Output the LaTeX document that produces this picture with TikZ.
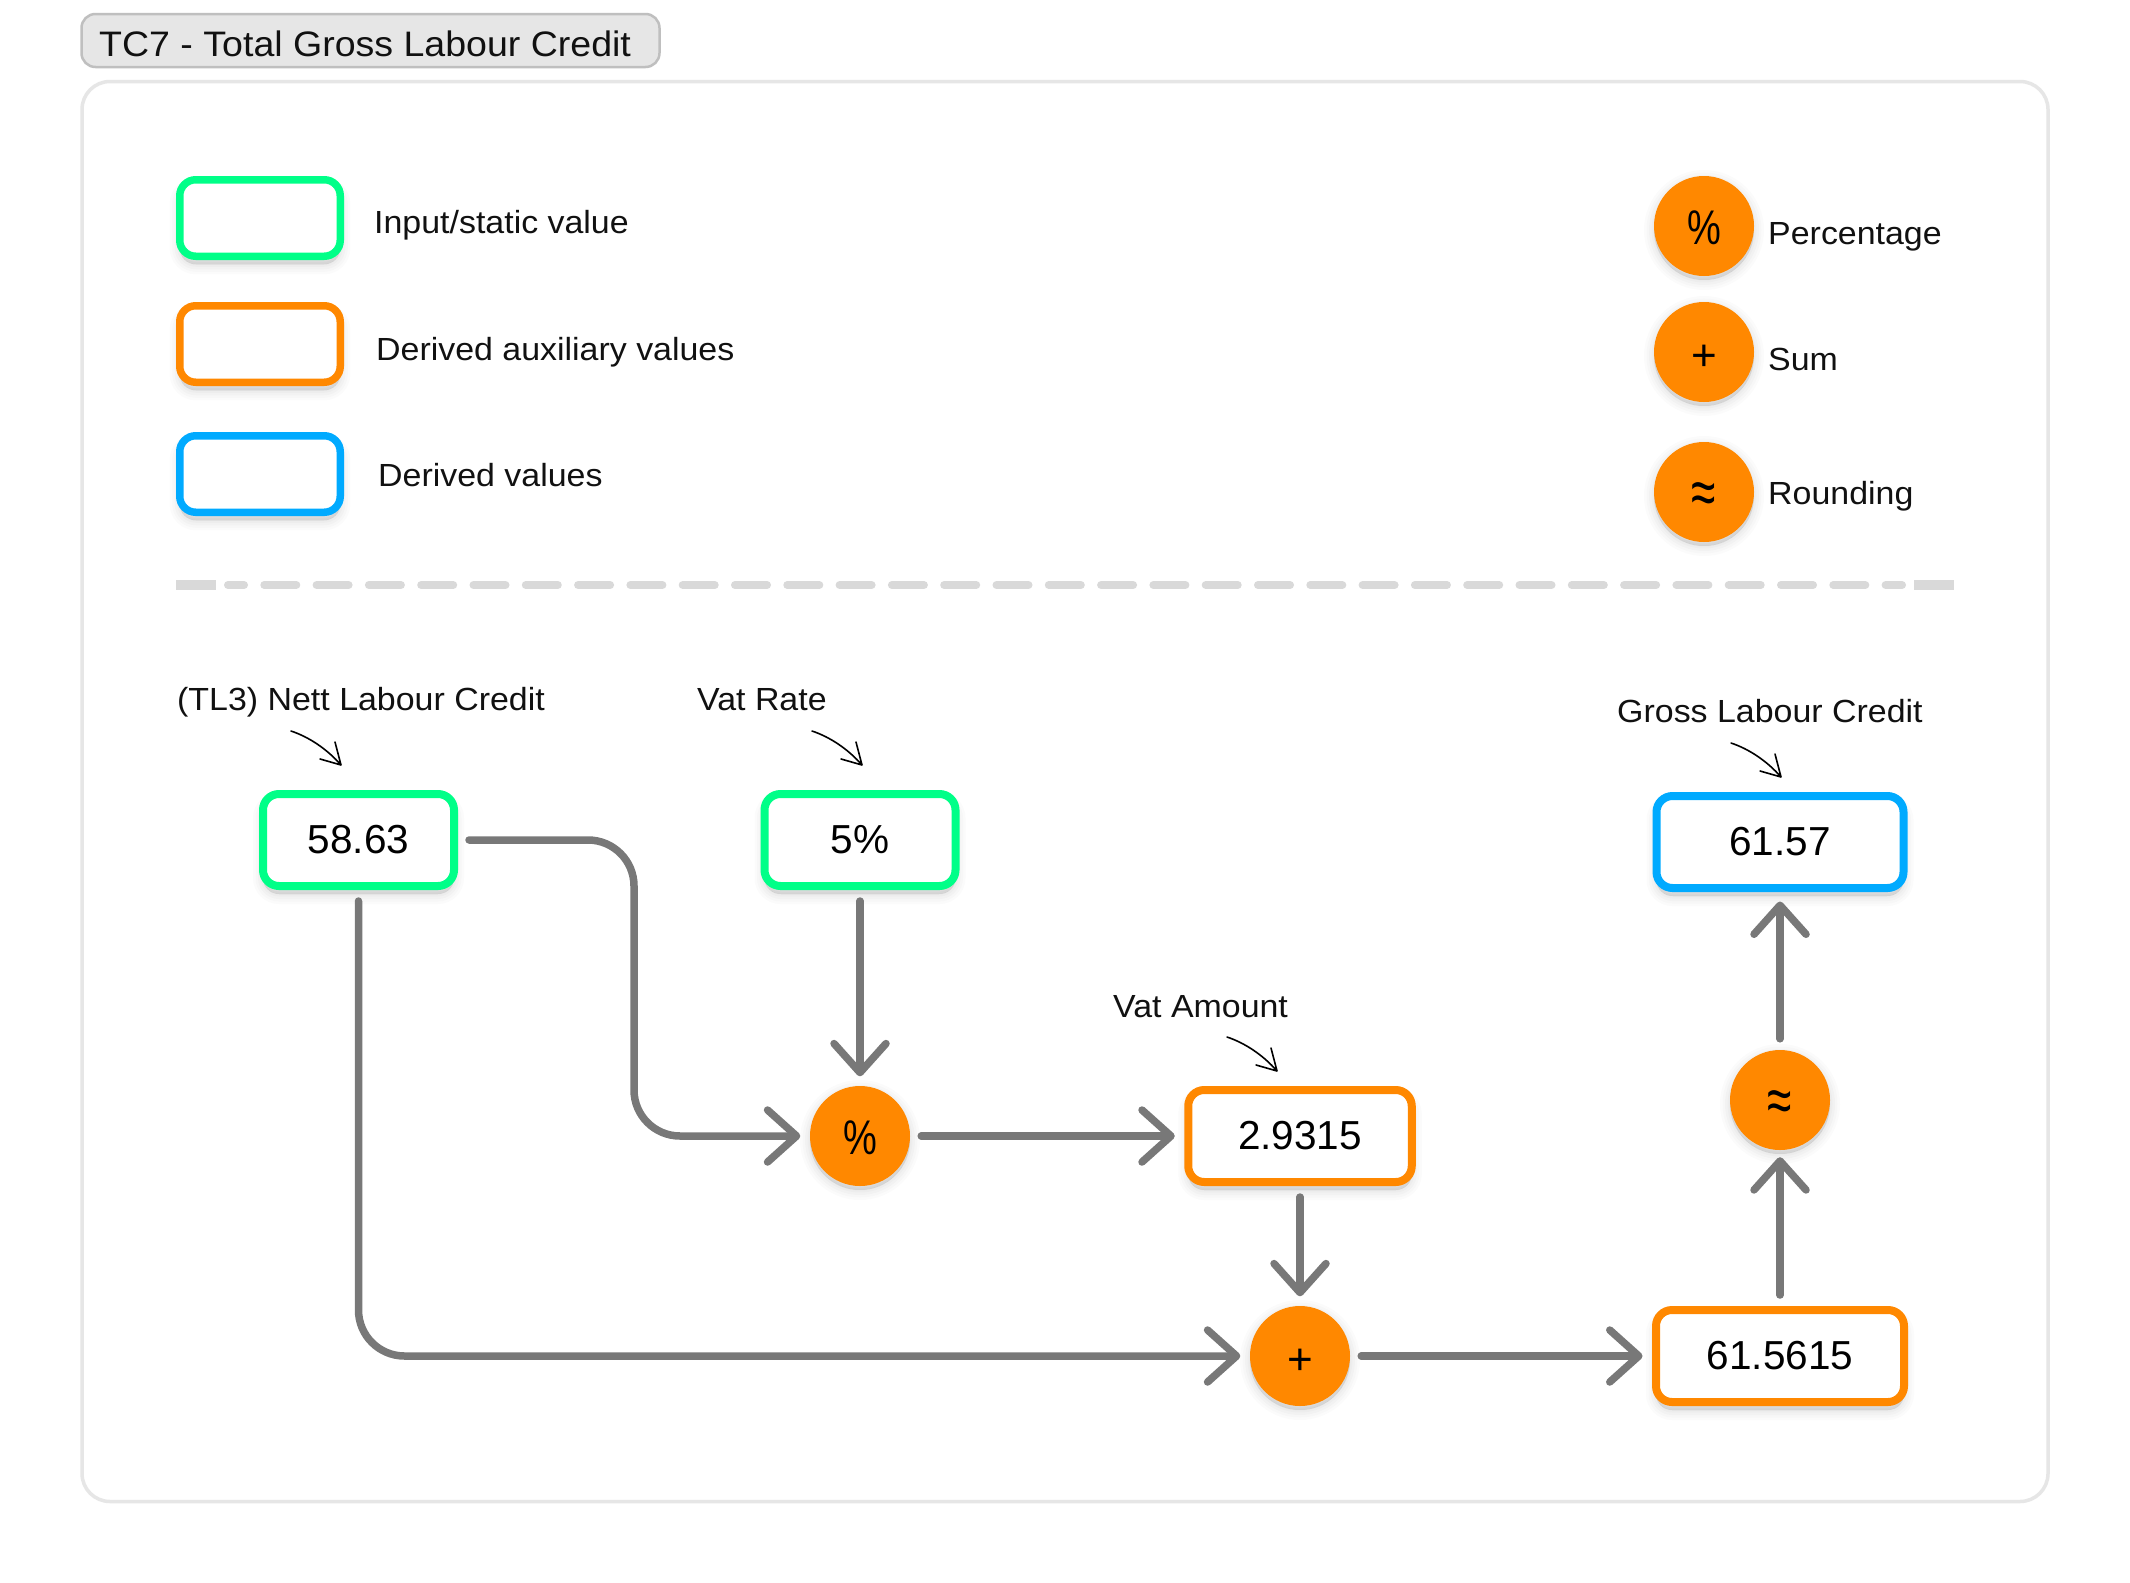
\documentclass[tikz,border=0pt]{standalone}
\usepackage{fontspec}
\setmainfont{Liberation Sans}
\newfontfamily\lblfont[FakeStretch=1.06]{Liberation Sans}
\newfontfamily\valfont{Liberation Sans}
\usetikzlibrary{arrows.meta,shadows,calc}
\definecolor{cgreen}{HTML}{00FF88}
\definecolor{corange}{HTML}{FF8800}
\definecolor{cblue}{HTML}{00AAFF}
\definecolor{cline}{HTML}{787878}
\definecolor{cframe}{HTML}{E6E6E6}
\definecolor{cdash}{HTML}{D9D9D9}
\definecolor{cink}{HTML}{111111}
\tikzset{
  softshadow/.style={
    general shadow={draw=black,fill=black,opacity=.016,line width=20pt,shadow yshift=-#1},
    general shadow={draw=black,fill=black,opacity=.016,line width=15pt,shadow yshift=-#1},
    general shadow={draw=black,fill=black,opacity=.02,line width=10pt,shadow yshift=-#1},
    general shadow={draw=black,fill=black,opacity=.02,line width=5pt,shadow yshift=-#1},
    general shadow={draw=black,fill=black,opacity=.02,line width=1pt,shadow yshift=-#1}},
  valbox/.style={softshadow=8pt,draw=#1,fill=white,line width=8pt,rounded corners=16pt,inner sep=0pt,
    font=\valfont\fontsize{40.5}{46}\selectfont,text=black},
  keybox/.style={valbox=#1,line width=7.5pt,minimum width=160.5pt,minimum height=76.5pt},
  opcircle/.style={softshadow=4pt,circle,fill=corange,inner sep=0pt,minimum size=100pt,text=black},
  txt/.style={anchor=base west,inner sep=0pt,text=cink,font=\lblfont\fontsize{32}{38}\selectfont},
  flow/.style={draw=cline,line width=7.5pt,line cap=round,
    -{Straight Barb[length=29pt,width=52pt,round]},shorten <=11pt,shorten >=9.5pt},
  scribble/.style={draw=black,line width=1.6pt,line cap=round,line join=round}
}
\newcommand{\noteArrow}[2]{\draw[scribble,shift={(#1,#2)}] (0,0) .. controls (18,6) and (36,18) .. (50,34) (44,11) -- (50,34) -- (29,28);}
\newcommand{\symPct}{\raisebox{-18.5pt}[0pt][0pt]{\scalebox{1}[1.28]{\valfont\fontsize{38}{44}\selectfont\%}}}
\newcommand{\symPlus}{\raisebox{-18.5pt}[0pt][0pt]{\valfont\fontsize{44}{50}\selectfont +}}
\newcommand{\symRnd}{\raisebox{-22pt}[0pt][0pt]{\scalebox{1.3}[1.9]{\valfont\fontsize{34}{40}\selectfont ≈}}}
\begin{document}
\begin{tikzpicture}[x=1pt,y=-1pt]
\useasboundingbox (0,0) rectangle (2130,1582);
\fill[white] (0,0) rectangle (2130,1582);

% frame and title
\node[draw=cframe,line width=3.5pt,rounded corners=28pt,fill=white,minimum width=1966pt,minimum height=1420pt,inner sep=0pt] (frame) at (1065,791.5) {};
\node[draw=black!25,fill=cframe,line width=2.5pt,rounded corners=14pt,inner sep=0pt,minimum width=578pt,minimum height=53pt] (titlebox) at (370.5,40.5) {};
\node[txt,font=\lblfont\fontsize{35.4}{42}\selectfont] (title) at (99,56) {TC7 - Total Gross Labour Credit};

% legend
\node[keybox=cgreen] (k1) at (260,218) {};
\node[keybox=corange] (k2) at (260,344) {};
\node[keybox=cblue] (k3) at (260,474) {};
\node[txt] (k1t) at (374,233) {Input/static value};
\node[txt] (k2t) at (376,360) {Derived auxiliary values};
\node[txt] (k3t) at (378,486) {Derived values};

\node[opcircle] (o1) at (1704,226) {\symPct};
\node[opcircle] (o2) at (1704,352) {\symPlus};
\node[opcircle] (o3) at (1704,492) {\symRnd};
\node[txt] (o1t) at (1768,244) {Percentage};
\node[txt] (o2t) at (1768,370) {Sum};
\node[txt] (o3t) at (1768,504) {Rounding};

% divider
\fill[cdash] (176,580) rectangle (216,590);
\fill[cdash] (1914,580) rectangle (1954,590);
\draw[cdash,line width=8pt,line cap=round,dash pattern=on 32pt off 20.3pt,dash phase=16pt] (228,585) -- (1902,585);

% captions
\node[txt] (c1) at (177,710) {(TL3) Nett Labour Credit};
\node[txt] (c2) at (697,710) {Vat Rate};
\node[txt] (c3) at (1113,1017) {Vat Amount};
\node[txt] (c4) at (1617,722) {Gross Labour Credit};
\noteArrow{291}{731}
\noteArrow{812}{731}
\noteArrow{1227}{1037}
\noteArrow{1731}{743}

% values
\node[valbox=cgreen,minimum width=191pt,minimum height=92pt] (v1) at (358.5,840) {58.63};
\node[valbox=cgreen,minimum width=191pt,minimum height=92pt] (v2) at (860,840) {5\%};
\node[valbox=corange,minimum width=223.5pt,minimum height=92pt] (v3) at (1300,1136) {2.9315};
\node[valbox=corange,minimum width=248pt,minimum height=92pt] (v4) at (1780,1356) {61.5615};
\node[valbox=cblue,minimum width=247pt,minimum height=92pt] (v5) at (1780,842) {61.57};

% operators
\node[opcircle] (pct) at (860,1136) {\symPct};
\node[opcircle] (plus) at (1300,1356) {\symPlus};
\node[opcircle] (rnd) at (1780,1100) {\symRnd};

% connectors
\coordinate (bend) at (634,1136);
\draw[flow,rounded corners=46pt] (v1.east) -| (bend) -- (pct.west);
\draw[flow] (v2.south) -- (pct.north);
\draw[flow] (pct.east) -- (v3.west);
\draw[flow] (v3.south) -- (plus.north);
\draw[flow,rounded corners=46pt] (v1.south) |- (plus.west);
\draw[flow] (plus.east) -- (v4.west);
\draw[flow,shorten >=7pt] (v4.north) -- (rnd.south);
\draw[flow] (rnd.north) -- (v5.south);
\end{tikzpicture}
\end{document}
